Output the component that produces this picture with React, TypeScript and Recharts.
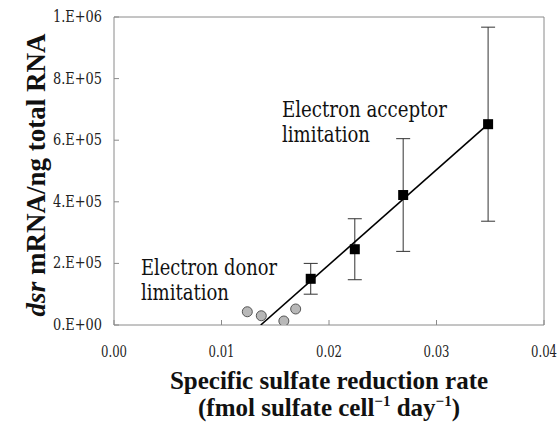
import React from 'react';
import {
  ComposedChart,
  Scatter,
  XAxis,
  YAxis,
  ErrorBar,
  ReferenceLine,
  Label,
} from 'recharts';

const acceptorRate = [0.0183, 0.0224, 0.0269, 0.0348];
const acceptorRna = [150000, 246000, 422000, 652000];
const acceptorErr = [50000, 99000, 183000, 315000];

const donorRate = [0.0124, 0.0137, 0.0158, 0.0169];
const donorRna = [43000, 30000, 13000, 52000];

const trendRate = [0.01365, 0.0348];
const trendRna = [0, 652000];

const xTicks = [0, 0.01, 0.02, 0.03, 0.04];
const yTicks = [0, 200000, 400000, 600000, 800000, 1000000];

const acceptorData = acceptorRate.map((x, i) => ({ x, y: acceptorRna[i], err: acceptorErr[i] }));
const donorData = donorRate.map((x, i) => ({ x, y: donorRna[i] }));
const trendData = trendRate.map((x, i) => ({ x, y: trendRna[i] }));

// regular Liberation Serif falls back to sans here, so plain text uses DejaVu Serif squeezed to width
const boldSerif = 'Liberation Serif';
const plainSerif = '"DejaVu Serif Condensed", "DejaVu Serif"';
const axisGrey = '#8a8a8a';

const sciFormat = (v: number) => {
  if (v === 0) return '0.E+00';
  const exp = Math.floor(Math.log10(v) + 1e-9);
  const m = Math.round(v / Math.pow(10, exp));
  return `${m}.E+${String(exp).padStart(2, '0')}`;
};

const Square = (p: any) => (
  <rect x={p.cx - 5} y={p.cy - 5} width={10} height={10} fill="#000" />
);

const Dot = (p: any) => (
  <circle cx={p.cx} cy={p.cy} r={5} fill="#b8b8b8" stroke="#555" strokeWidth={1} />
);

const Nothing = () => <g />;

const YTitle = () => (
  <text
    transform="translate(45,175) rotate(-90)"
    textAnchor="middle"
    fontFamily={boldSerif}
    fontWeight="bold"
    fontSize={27}
    fill="#111"
  >
    <tspan fontStyle="italic">dsr</tspan> mRNA/ng total RNA
  </text>
);

const XTitle = () => (
  <text textAnchor="middle" fontFamily={boldSerif} fontWeight="bold" fontSize={25} fill="#111">
    <tspan x={329} y={389}>Specific sulfate reduction rate</tspan>
    <tspan x={329} y={416}>
      (fmol sulfate cell
      <tspan fontSize={15} dy={-10}>−1</tspan>
      <tspan dy={10}> day</tspan>
      <tspan fontSize={15} dy={-10}>−1</tspan>
      <tspan dy={10}>)</tspan>
    </tspan>
  </text>
);

const Note = ({ x, y, w, children }: any) => (
  <text
    x={x}
    y={y}
    fontFamily={plainSerif}
    fontSize={23}
    fill="#111"
    textLength={w}
    lengthAdjust="spacingAndGlyphs"
  >
    {children}
  </text>
);

const Notes = () => (
  <g>
    <Note x={282} y={117} w={165}>Electron acceptor</Note>
    <Note x={282} y={142} w={88}>limitation</Note>
    <Note x={141} y={275} w={136}>Electron donor</Note>
    <Note x={141} y={300} w={88}>limitation</Note>
  </g>
);

const TickText = (p: any) => (
  <text
    x={p.x}
    y={p.y}
    dy={p.dy}
    textAnchor={p.textAnchor}
    fontFamily={plainSerif}
    fontSize={16}
    fill="#222"
    textLength={p.w}
    lengthAdjust="spacingAndGlyphs"
  >
    {p.fmt(p.payload.value)}
  </text>
);

export default function App() {
  return (
    <div style={{ position: 'absolute', left: 0, top: 0, background: '#fff' }}>
      <ComposedChart
        width={559}
        height={427}
        margin={{ top: 17, right: 15, left: 54, bottom: 72 }}
      >
        <XAxis
          type="number"
          dataKey="x"
          domain={[0, 0.04]}
          ticks={xTicks}
          stroke={axisGrey}
          tickSize={-5}
          tickMargin={37}
          height={30}
          tick={<TickText fmt={(v: number) => v.toFixed(2)} w={26} />}
          allowDataOverflow
        >
          <Label content={<XTitle />} />
        </XAxis>
        <YAxis
          type="number"
          dataKey="y"
          domain={[0, 1000000]}
          ticks={yTicks}
          stroke={axisGrey}
          tickSize={-5}
          tickMargin={17}
          width={60}
          tick={<TickText fmt={sciFormat} dy={5} w={49} />}
          allowDataOverflow
        >
          <Label content={<YTitle />} />
        </YAxis>
        <ReferenceLine y={1000000} stroke={axisGrey} />
        <ReferenceLine x={0.04} stroke={axisGrey} />
        <Scatter
          data={trendData}
          line={{ stroke: '#000', strokeWidth: 1.6 }}
          shape={<Nothing />}
          isAnimationActive={false}
        />
        <Scatter data={donorData} shape={<Dot />} isAnimationActive={false} />
        <Scatter data={acceptorData} shape={<Square />} isAnimationActive={false}>
          <ErrorBar dataKey="err" direction="y" width={7} stroke="#333" strokeWidth={1} />
        </Scatter>
        <Label content={<Notes />} />
      </ComposedChart>
    </div>
  );
}
